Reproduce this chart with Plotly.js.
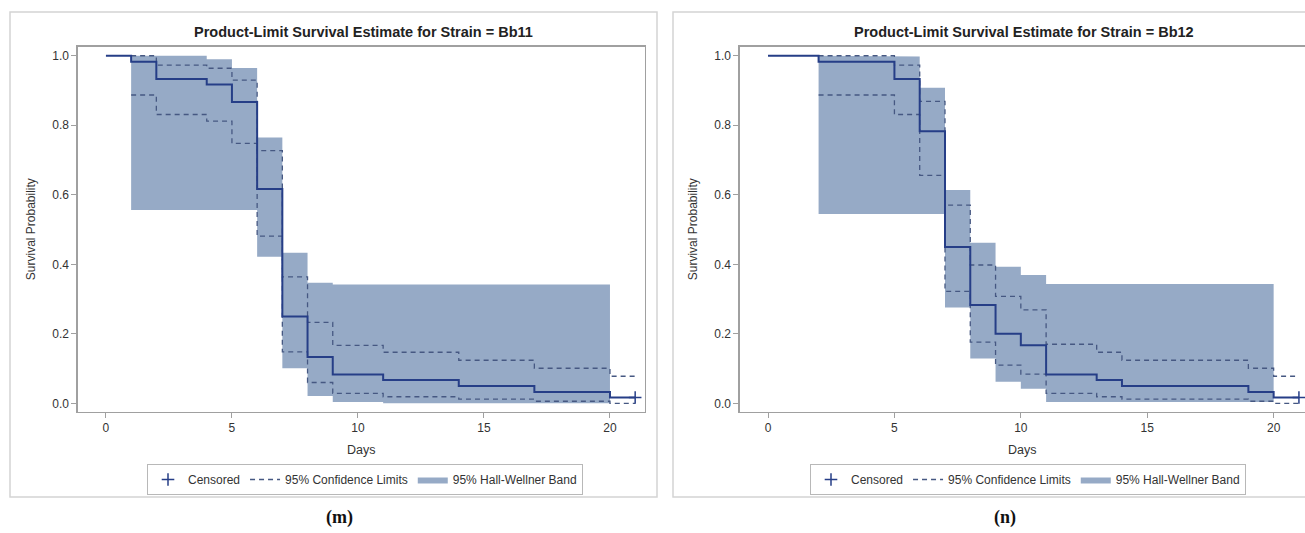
<!DOCTYPE html>
<html><head><meta charset="utf-8">
<script src="https://cdn.plot.ly/plotly-3.0.1.min.js"></script>
<style>html,body{margin:0;padding:0;background:#fff}#chart{width:1305px;height:533px}</style>
</head><body><div id="chart"></div>
<script>
// ---------- Strain Bb11 ----------
const bb11Days = [0, 1, 2, 4, 5, 6, 7, 8, 9, 11, 14, 17, 20, 21];
const bb11Survival = [1.0, 0.983, 0.933, 0.917, 0.867, 0.617, 0.25, 0.133, 0.083, 0.067, 0.05, 0.033, 0.017, 0.017];
const bb11CiDays = [1, 2, 4, 5, 6, 7, 8, 9, 11, 14, 17, 20, 21];
const bb11CiUpper = [1.0, 0.973, 0.964, 0.930, 0.727, 0.364, 0.233, 0.167, 0.147, 0.124, 0.101, 0.078, 0.078];
const bb11CiLower = [0.887, 0.831, 0.812, 0.748, 0.481, 0.148, 0.060, 0.029, 0.019, 0.012, 0.006, 0.0, 0.0];
const bb11BandDays = [1, 4, 5, 6, 7, 8, 9, 11, 20];
const bb11BandUpper = [1.0, 0.99, 0.965, 0.765, 0.433, 0.347, 0.342, 0.342];
const bb11BandLower = [0.556, 0.556, 0.556, 0.422, 0.101, 0.021, 0.004, 0.0];
const bb11CensoredDays = [21];
const bb11CensoredSurv = [0.017];

// ---------- Strain Bb12 ----------
const bb12Days = [0, 2, 5, 6, 7, 8, 9, 10, 11, 13, 14, 19, 20, 21];
const bb12Survival = [1.0, 0.983, 0.933, 0.783, 0.45, 0.283, 0.2, 0.167, 0.083, 0.067, 0.05, 0.033, 0.017, 0.017];
const bb12CiDays = [2, 5, 6, 7, 8, 9, 10, 11, 13, 14, 19, 20, 21];
const bb12CiUpper = [1.0, 0.973, 0.869, 0.570, 0.398, 0.308, 0.269, 0.170, 0.147, 0.124, 0.101, 0.078, 0.078];
const bb12CiLower = [0.887, 0.831, 0.656, 0.322, 0.176, 0.110, 0.084, 0.029, 0.019, 0.012, 0.006, 0.0, 0.0];
const bb12BandDays = [2, 5, 6, 7, 8, 9, 10, 11, 20];
const bb12BandUpper = [1.0, 0.998, 0.908, 0.614, 0.462, 0.393, 0.369, 0.343];
const bb12BandLower = [0.545, 0.545, 0.545, 0.276, 0.129, 0.062, 0.042, 0.004];
const bb12CensoredDays = [21];
const bb12CensoredSurv = [0.017];

const xTickVals = [0, 5, 10, 15, 20];
const yTickVals = [0, 0.2, 0.4, 0.6, 0.8, 1.0];
const titles = ["Product-Limit Survival Estimate for Strain = Bb11", "Product-Limit Survival Estimate for Strain = Bb12"];
const panelLabels = ["(m)", "(n)"];

const W = 1305, H = 533;
const BAND = 'rgb(150,170,198)';
const NAVY = 'rgb(38,62,135)';
const DASH = 'rgb(70,88,130)';
const FONT = 'Liberation Sans, Arial, sans-serif';

function bandPolygon(days, up, lo) {
  const x = [], y = [];
  for (let i = 0; i < up.length; i++) { x.push(days[i], days[i + 1]); y.push(up[i], up[i]); }
  for (let i = lo.length - 1; i >= 0; i--) { x.push(days[i + 1], days[i]); y.push(lo[i], lo[i]); }
  x.push(days[0]); y.push(up[0]);
  return {x, y};
}

function panelTraces(d, xa, ya, leg) {
  const poly = bandPolygon(d.bandDays, d.bandUp, d.bandLo);
  return [
    {x: poly.x, y: poly.y, xaxis: xa, yaxis: ya, type: 'scatter', mode: 'lines', fill: 'toself',
     fillcolor: BAND, line: {width: 0, color: BAND}, name: '95% Hall-Wellner Band', legend: leg, legendrank: 3},
    {x: d.ciDays, y: d.ciUp, xaxis: xa, yaxis: ya, type: 'scatter', mode: 'lines', line: {shape: 'hv', color: DASH, width: 1.3, dash: '5px,4px'},
     name: '95% Confidence Limits', legend: leg, legendrank: 2},
    {x: d.ciDays, y: d.ciLo, xaxis: xa, yaxis: ya, type: 'scatter', mode: 'lines', line: {shape: 'hv', color: DASH, width: 1.3, dash: '5px,4px'},
     showlegend: false, legend: leg},
    {x: d.days, y: d.surv, xaxis: xa, yaxis: ya, type: 'scatter', mode: 'lines', line: {shape: 'hv', color: NAVY, width: 2},
     showlegend: false, legend: leg},
    {x: d.cDays, y: d.cSurv, xaxis: xa, yaxis: ya, type: 'scatter', mode: 'markers',
     marker: {symbol: 'cross-thin', size: 9, line: {width: 1.5, color: NAVY}, color: NAVY},
     name: 'Censored', legend: leg, legendrank: 1}
  ];
}

const data = [].concat(
  panelTraces({days: bb11Days, surv: bb11Survival, ciDays: bb11CiDays, ciUp: bb11CiUpper, ciLo: bb11CiLower,
    bandDays: bb11BandDays, bandUp: bb11BandUpper, bandLo: bb11BandLower, cDays: bb11CensoredDays, cSurv: bb11CensoredSurv}, 'x', 'y', 'legend'),
  panelTraces({days: bb12Days, surv: bb12Survival, ciDays: bb12CiDays, ciUp: bb12CiUpper, ciLo: bb12CiLower,
    bandDays: bb12BandDays, bandUp: bb12BandUpper, bandLo: bb12BandLower, cDays: bb12CensoredDays, cSurv: bb12CensoredSurv}, 'x2', 'y2', 'legend2')
);

const px = v => v / W, py = v => 1 - v / H;
const yDom = [py(411.7), py(46.7)];

function xAxis(dom, anchor, range) {
  return {domain: dom, anchor: anchor, range: range, tickvals: xTickVals, ticks: 'outside', ticklen: 5, tickcolor: '#a0a0a0',
    showline: true, mirror: true, linecolor: '#a0a0a0', linewidth: 1.3, showgrid: false, zeroline: false,
    tickfont: {family: FONT, size: 12, color: '#333'},
    title: {text: 'Days', font: {family: FONT, size: 12.5, color: '#333'}, standoff: 10}};
}
function yAxis(anchor) {
  return {domain: yDom, anchor: anchor, range: [-0.024, 1.026], tickvals: yTickVals, tickformat: '.1f', ticks: 'outside', ticklen: 5,
    tickcolor: '#a0a0a0', showline: true, mirror: true, linecolor: '#a0a0a0', linewidth: 1.3, showgrid: false, zeroline: false,
    tickfont: {family: FONT, size: 12, color: '#333'},
    title: {text: 'Survival Probability', font: {family: FONT, size: 12, color: '#333'}, standoff: 14}};
}

const legendBase = {orientation: 'h', yanchor: 'top', y: py(464), xanchor: 'left', bordercolor: '#b8b8b8', borderwidth: 1,
  bgcolor: 'rgba(255,255,255,0)', font: {family: FONT, size: 12, color: '#333'}, traceorder: 'normal', itemwidth: 30};

const layout = {
  width: W, height: H, margin: {l: 0, r: 0, t: 0, b: 0}, paper_bgcolor: '#fff', plot_bgcolor: '#fff',
  showlegend: true, hovermode: false,
  xaxis: xAxis([px(77.7), px(645)], 'y', [-1.12, 21.39]),
  yaxis: yAxis('x'),
  xaxis2: xAxis([px(739.7), 1.0], 'y2', [-1.12, 21.24]),
  yaxis2: yAxis('x2'),
  legend: Object.assign({}, legendBase, {x: px(147)}),
  legend2: Object.assign({}, legendBase, {x: px(810)}),
  shapes: [
    {type: 'rect', xref: 'paper', yref: 'paper', x0: px(10), x1: px(657), y0: py(497), y1: py(12), line: {color: '#d4d4d4', width: 1.5}, layer: 'below'},
    {type: 'rect', xref: 'paper', yref: 'paper', x0: px(673), x1: px(1320), y0: py(497), y1: py(12), line: {color: '#d4d4d4', width: 1.5}, layer: 'below'}
  ],
  annotations: [
    {text: '<b>' + titles[0] + '</b>', xref: 'paper', yref: 'paper', x: px(363), y: py(32), xanchor: 'center', yanchor: 'middle', showarrow: false, font: {family: FONT, size: 14.5, color: '#222'}},
    {text: '<b>' + titles[1] + '</b>', xref: 'paper', yref: 'paper', x: px(1024), y: py(32), xanchor: 'center', yanchor: 'middle', showarrow: false, font: {family: FONT, size: 14.5, color: '#222'}},
    {text: '<b>' + panelLabels[0] + '</b>', xref: 'paper', yref: 'paper', x: px(340), y: py(517), xanchor: 'center', yanchor: 'middle', showarrow: false, font: {family: 'Liberation Serif, serif', size: 18, color: '#111'}},
    {text: '<b>' + panelLabels[1] + '</b>', xref: 'paper', yref: 'paper', x: px(1005), y: py(517), xanchor: 'center', yanchor: 'middle', showarrow: false, font: {family: 'Liberation Serif, serif', size: 18, color: '#111'}}
  ]
};

Plotly.newPlot('chart', data, layout, {displayModeBar: false, staticPlot: true});
</script></body></html>
